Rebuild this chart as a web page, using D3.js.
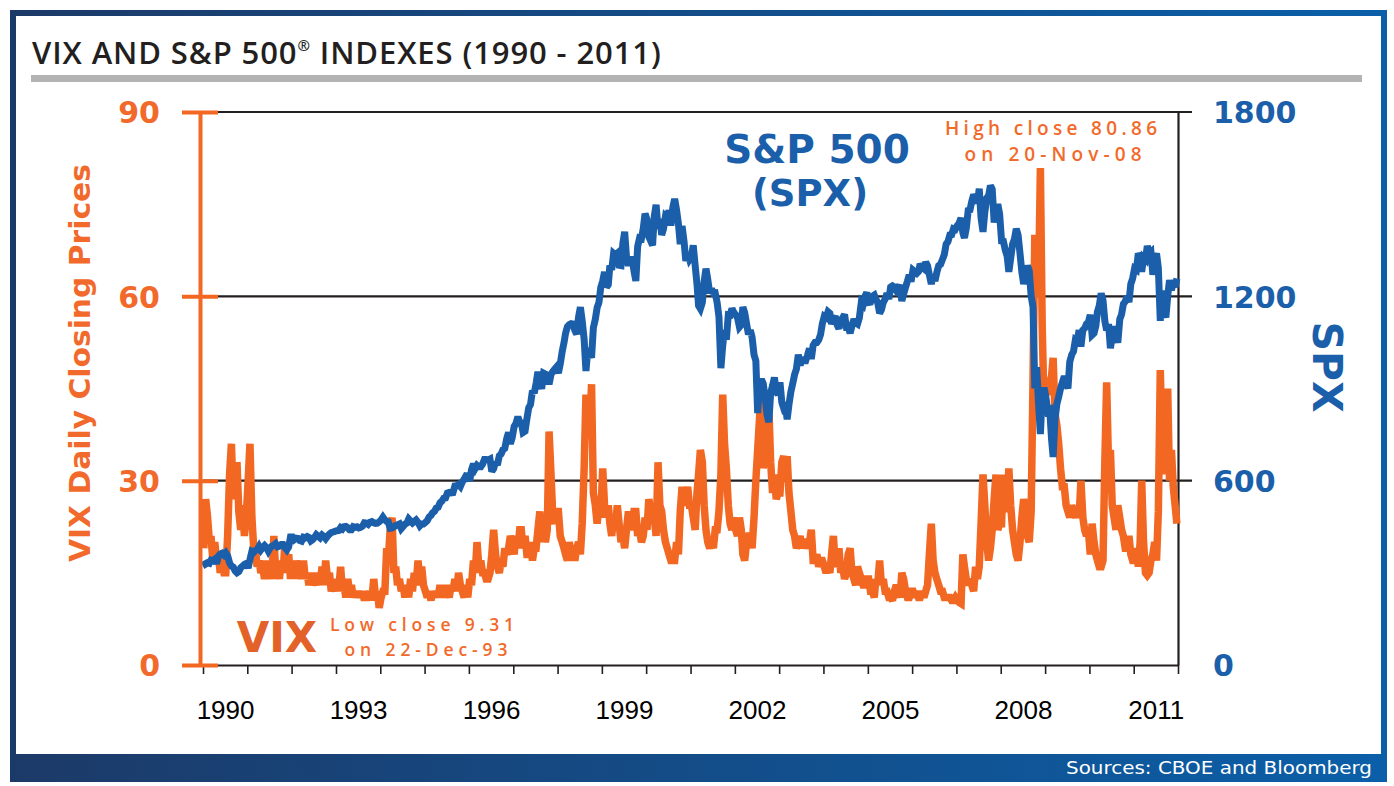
<!DOCTYPE html>
<html><head><meta charset="utf-8">
<script src="https://cdn.jsdelivr.net/npm/d3@7"></script>
<style>html,body{margin:0;padding:0;background:#fff;} svg{display:block}</style>
</head><body><svg id="chart" width="1394" height="786"></svg>
<script>
// ---------------- DATA ----------------
const vixTicks = [0, 30, 60, 90];
const spxTicks = [0, 600, 1200, 1800];
const yearLabels = [1990, 1993, 1996, 1999, 2002, 2005, 2008, 2011];
const firstYear = 1990;

// VIX closes, two readings per month (early / late), Jan 1990 - Dec 2011
const vixSemiMonthly = [
  19,27, 24,20, 21,17, 20,17, 18,15, 17,15, 15,21, 31,36, 27,31, 33,25, 22,26, 21,24,   // 1990
  30,36, 24,19, 19,16, 17,15, 16,14, 17,15, 16,14, 21,15, 16,14, 17,15, 20,15, 18,14,   // 1991
  17,14, 17,15, 16,14, 17,14, 15,13, 15,13, 14,13, 15,13, 16,13, 17,14, 15,12, 13,12,   // 1992
  14,12, 16,12, 13,11, 14,12, 13,11, 12,11, 12,11, 12,10.5, 12,11, 12,10.5, 14,11, 12,9.31, // 1993
  11,12, 12,19, 17,22, 24,15, 16,13, 14,12, 13,11, 13,11, 14,12, 15,13, 17,14, 16,13,   // 1994
  12,11, 12,10.5, 12,11, 12,11, 13,11, 13,11, 12,11, 13,12, 14,12, 15,13, 12,11, 13,11, // 1995
  14,13, 17,15, 20,16, 17,15, 15,14, 14,15, 18,22, 18,16, 15,17, 16,19, 18,19, 21,20,   // 1996
  18,21, 19,22, 22,19, 21,18, 18,20, 17,19, 19,22, 25,20, 22,20, 22,38, 31,24, 23,25,   // 1997
  25,21, 20,19, 18,17, 20,18, 19,17, 19,20, 18,23, 32,44, 40,38, 45.7,28, 26,23, 26,24, // 1998
  32,26, 24,26, 23,21, 24,22, 26,23, 20,21, 19,22, 25,23, 22,25, 25,21, 22,20, 21,24,   // 1999
  22,27, 25,23, 24,21, 33,26, 25,22, 20,19, 18,17, 17,17, 20,18, 25,29, 26,27, 29,26,   // 2000
  26,24, 22,28, 31,35, 33,26, 22,20, 19,20, 19,22, 22,25, 31,44, 36,32, 26,23, 22,24,   // 2001
  22,21, 24,22, 18,17, 20,21, 21,19, 24,30, 35,40, 45,32, 36,40, 42,33, 28,31, 27,28,   // 2002
  28,33, 34,30, 34,28, 25,22, 21,19, 20,21, 19,20, 20,19, 20,22, 17,17, 18,16, 17,17,   // 2003
  16,15, 16,15, 18,21, 16,17, 19,15, 16,14, 15,18, 19,15, 14,13, 16,15, 14,13, 13,14,   // 2004
  14,12, 12,11, 14,13, 17,13, 14,12, 12,11, 11,10.5, 12,13, 12,11, 15,14, 12,11, 11,12, // 2005
  12,11, 12,11, 11,12, 11,12, 13,18, 23,17, 15,14, 13,12, 12,11, 11,11, 11,10.5, 10.5,11, // 2006
  10.5,10.2, 10,18, 16,14, 13,14, 13,12, 16,14, 16,23, 31,26, 20,17, 19,22, 27,31, 22,23, // 2007
  23,31, 25,26, 32,26, 22,20, 18,17, 20,24, 27,25, 21,20, 25,46, 70,60, 62,80.86, 55,42, // 2008
  45,44, 46,47, 50,41, 39,36, 32,29, 29,26, 25,24, 26,25, 24,25, 24,30, 24,22, 21,22,   // 2009
  18,23, 20,18, 17,16, 16,17, 33,46, 32,35, 26,24, 22,26, 24,22, 21,19, 19,21, 18,17,   // 2010
  17,19, 16,20, 30,20, 15,14.6, 15,17, 18,20, 17,25, 48,36, 42,31, 45,30, 35,29, 26,23  // 2011
];

// S&P 500 closes, two readings per month (early / late), Jan 1990 - Dec 2011
const spxSemiMonthly = [
  340,329, 333,331, 341,339, 344,330, 354,361, 364,358, 365,356, 332,322, 318,306, 300,304, 317,322, 327,330, // 1990
  316,343, 370,367, 373,375, 386,375, 383,389, 382,371, 381,387, 390,395, 385,387, 392,392, 382,375, 384,417, // 1991
  417,408, 413,412, 405,403, 416,414, 418,415, 404,408, 415,424, 419,414, 423,418, 411,419, 426,431, 433,435, // 1992
  437,438, 447,443, 450,451, 447,440, 440,450, 448,450, 446,448, 452,463, 462,458, 465,467, 463,461, 462,466, // 1993
  472,481, 472,467, 466,445, 446,450, 454,456, 459,444, 451,458, 462,475, 468,462, 467,472, 464,453, 459,459, // 1994
  464,470, 482,487, 495,500, 511,514, 528,533, 543,544, 560,562, 560,561, 583,584, 588,581, 596,605, 616,615, // 1995
  599,636, 655,640, 650,645, 645,654, 669,669, 667,670, 630,639, 662,651, 681,687, 701,705, 737,757, 720,740, // 1996
  776,786, 808,790, 789,757, 761,801, 837,848, 893,885, 917,954, 922,899, 950,947, 944,914, 946,955, 963,970, // 1997
  950,980, 1020,1049, 1080,1101, 1108,1111, 1110,1090, 1077,1133, 1165,1120, 1060,957, 1030,1017, 1000,1098, 1125,1163, 1180,1229, // 1998
  1250,1279, 1230,1238, 1300,1286, 1340,1335, 1340,1301, 1300,1372, 1410,1328, 1300,1320, 1320,1282, 1250,1362, 1390,1388, 1420,1469, // 1999
  1450,1394, 1380,1366, 1460,1498, 1420,1452, 1400,1420, 1460,1454, 1480,1430, 1490,1517, 1480,1436, 1370,1429, 1380,1315, 1340,1320, // 2000
  1330,1366, 1300,1240, 1170,1160, 1180,1249, 1290,1255, 1210,1224, 1210,1211, 1180,1133, 966,1040, 1090,1059, 1140,1139, 1160,1148, // 2001
  1140,1130, 1100,1107, 1165,1147, 1110,1076, 1090,1067, 1010,990, 820,912, 930,916, 870,815, 790,885, 910,936, 890,880, // 2002
  920,855, 835,841, 800,848, 890,916, 945,963, 1010,975, 1000,990, 990,1008, 1030,996, 1040,1050, 1050,1058, 1075,1111, // 2003
  1135,1131, 1150,1145, 1110,1126, 1135,1107, 1095,1121, 1130,1141, 1100,1101, 1080,1104, 1125,1114, 1110,1130, 1180,1173, 1200,1212, // 2004
  1180,1181, 1200,1204, 1190,1180, 1145,1156, 1180,1191, 1210,1191, 1230,1234, 1230,1220, 1230,1229, 1185,1207, 1230,1249, 1270,1248, // 2005
  1285,1280, 1275,1281, 1305,1295, 1290,1311, 1300,1270, 1240,1270, 1250,1277, 1300,1304, 1320,1336, 1370,1378, 1400,1401, 1420,1418, // 2006
  1430,1438, 1455,1407, 1390,1421, 1480,1482, 1510,1531, 1520,1503, 1550,1455, 1410,1474, 1520,1527, 1560,1549, 1440,1481, 1500,1468, // 2007
  1380,1379, 1350,1331, 1280,1323, 1370,1386, 1420,1400, 1340,1280, 1240,1267, 1300,1283, 1200,1166, 900,969, 850,752, 880,903, // 2008
  870,826, 830,735, 677,798, 850,873, 900,919, 940,919, 900,987, 1010,1021, 1060,1057, 1090,1036, 1090,1096, 1110,1115, // 2009
  1140,1074, 1080,1104, 1150,1169, 1210,1187, 1120,1089, 1110,1031, 1070,1102, 1080,1049, 1125,1141, 1175,1183, 1200,1181, 1240,1258, // 2010
  1290,1286, 1340,1327, 1280,1326, 1320,1364, 1340,1345, 1270,1321, 1340,1292, 1120,1219, 1150,1131, 1200,1253, 1220,1247, 1230,1258  // 2011
];

// ---------------- STYLE ----------------
const ORANGE = "#f26722";
const ORANGE_TXT = "#f26a2b";
const BLUE = "#1b5fab";
const DARK = "#231f20";
const GOTH = "'DejaVu Sans', 'Open Sans', sans-serif";
const ARIAL = "'Liberation Sans', Arial, sans-serif";
const ANN = "'Open Sans', 'DejaVu Sans', sans-serif";

const svg = d3.select("#chart");
const defs = svg.append("defs");
const grad = defs.append("linearGradient").attr("id", "frameGrad")
  .attr("x1", "0%").attr("x2", "100%").attr("y1", "0%").attr("y2", "0%");
grad.append("stop").attr("offset", "0%").attr("stop-color", "#1c3a68");
grad.append("stop").attr("offset", "100%").attr("stop-color", "#0b5fa8");

// frame
svg.append("rect").attr("x", 13).attr("y", 13).attr("width", 1371).attr("height", 766)
  .attr("fill", "#fff").attr("stroke", "url(#frameGrad)").attr("stroke-width", 6);
svg.append("rect").attr("x", 10).attr("y", 754).attr("width", 1377).attr("height", 28)
  .attr("fill", "url(#frameGrad)");
svg.append("text").attr("x", 1372).attr("y", 774).attr("text-anchor", "end")
  .attr("font-family", GOTH).attr("font-size", 17).attr("fill", "#fff")
  .attr("textLength", 306).attr("lengthAdjust", "spacingAndGlyphs")
  .text("Sources: CBOE and Bloomberg");

// title
const title = svg.append("text").attr("x", 32).attr("y", 64)
  .attr("font-family", "'Open Sans', sans-serif").attr("font-weight", 600)
  .attr("font-size", 31).attr("letter-spacing", 0.9).attr("fill", DARK);
title.append("tspan").text("VIX AND S&P 500");
title.append("tspan").attr("font-size", 15).attr("dy", -13).text("®");
title.append("tspan").attr("dy", 13).text(" INDEXES (1990 - 2011)");
svg.append("rect").attr("x", 31).attr("y", 75).attr("width", 1331).attr("height", 7).attr("fill", "#b3b3b3");

// ---------------- SCALES ----------------
const x = d3.scaleTime().domain([new Date(1990, 0, 1), new Date(2012, 0, 1)]).range([203, 1178]);
const yV = d3.scaleLinear().domain([0, 90]).range([665, 112]);
const yS = d3.scaleLinear().domain([0, 1800]).range([665, 112]);
const dates = vixSemiMonthly.map((_, i) =>
  new Date(firstYear + Math.floor(i / 24), Math.floor((i % 24) / 2), i % 2 ? 23 : 8));

// gridlines
svg.append("g").selectAll("line").data(vixTicks.filter(d => d > 0)).join("line")
  .attr("x1", 203).attr("x2", 1192).attr("y1", d => yV(d)).attr("y2", d => yV(d))
  .attr("stroke", DARK).attr("stroke-width", 2.2);

// right axis line
const rightAxis = svg.append("g").attr("transform", "translate(1178,0)")
  .call(d3.axisRight(yS).tickValues(spxTicks).tickSizeInner(0).tickSizeOuter(0).tickFormat(""));
rightAxis.select(".domain").attr("stroke", DARK).attr("stroke-width", 2.2);
// right labels
const rightLbl = svg.append("g").attr("transform", "translate(1178,0)")
  .call(d3.axisRight(yS).tickValues(spxTicks).tickSize(0).tickPadding(35).tickFormat(d3.format("d")));
rightLbl.select(".domain").remove();
rightLbl.selectAll("text").attr("font-family", GOTH).attr("font-weight", "bold")
  .attr("font-size", 30).attr("fill", BLUE).attr("dy", "0.36em");

// bottom axis
const bottom = svg.append("g").attr("transform", "translate(0,665)")
  .call(d3.axisBottom(x).ticks(d3.timeYear.every(1)).tickSizeInner(9).tickSizeOuter(0).tickFormat(""));
bottom.select(".domain").attr("stroke", DARK).attr("stroke-width", 2.2);
bottom.selectAll(".tick line").attr("stroke", DARK).attr("stroke-width", 1.6);
const bottomLbl = svg.append("g").attr("transform", "translate(0,665)")
  .call(d3.axisBottom(x).tickValues(yearLabels.map(y => new Date(y, 6, 2)))
    .tickSize(0).tickPadding(36).tickFormat(d3.timeFormat("%Y")));
bottomLbl.select(".domain").remove();
bottomLbl.selectAll("text").attr("font-family", ARIAL).attr("font-size", 26).attr("fill", "#000");

// ---------------- SERIES ----------------
const vixLine = d3.line().x((d, i) => x(dates[i])).y(d => yV(d));
const spxLine = d3.line().x((d, i) => x(dates[i])).y(d => yS(d));
svg.append("path").datum(vixSemiMonthly).attr("d", vixLine)
  .attr("fill", "none").attr("stroke", ORANGE).attr("stroke-width", 7.5)
  .attr("stroke-linejoin", "miter").attr("stroke-miterlimit", 2.5);
svg.append("path").datum(spxSemiMonthly).attr("d", spxLine)
  .attr("fill", "none").attr("stroke", BLUE).attr("stroke-width", 7)
  .attr("stroke-linejoin", "miter").attr("stroke-miterlimit", 2.5);

// left axis (orange)
const leftAxis = svg.append("g").attr("transform", "translate(200,0)")
  .call(d3.axisLeft(yV).tickValues(vixTicks).tickSizeInner(18).tickSizeOuter(0).tickPadding(22));
leftAxis.select(".domain").attr("stroke", ORANGE).attr("stroke-width", 4);
leftAxis.selectAll(".tick line").attr("x1", 18).attr("stroke", ORANGE).attr("stroke-width", 4);
leftAxis.selectAll("text").attr("font-family", GOTH).attr("font-weight", "bold")
  .attr("font-size", 30).attr("fill", ORANGE_TXT).attr("dy", "0.36em");

// axis titles
svg.append("text").attr("transform", "translate(90,363) rotate(-90)")
  .attr("text-anchor", "middle").attr("font-family", GOTH).attr("font-weight", "bold")
  .attr("font-size", 29).attr("fill", ORANGE_TXT)
  .attr("textLength", 398).attr("lengthAdjust", "spacingAndGlyphs")
  .text("VIX Daily Closing Prices");
svg.append("text").attr("transform", "translate(1313,367) rotate(90)")
  .attr("text-anchor", "middle").attr("font-family", GOTH).attr("font-weight", "bold")
  .attr("font-size", 41).attr("fill", BLUE)
  .text("SPX");

// ---------------- ANNOTATIONS ----------------
svg.append("text").attr("x", 817).attr("y", 163).attr("text-anchor", "middle")
  .attr("font-family", GOTH).attr("font-weight", "bold").attr("font-size", 39).attr("fill", BLUE)
  .text("S&P 500");
svg.append("text").attr("x", 810).attr("y", 206).attr("text-anchor", "middle")
  .attr("font-family", GOTH).attr("font-weight", "bold").attr("font-size", 37).attr("fill", BLUE)
  .text("(SPX)");

svg.append("text").attr("x", 1051).attr("y", 135).attr("text-anchor", "middle")
  .attr("font-family", ANN).attr("font-weight", 600).attr("font-size", 19).attr("fill", ORANGE_TXT)
  .attr("textLength", 212).attr("lengthAdjust", "spacing").text("High close 80.86");
svg.append("text").attr("x", 1053).attr("y", 161).attr("text-anchor", "middle")
  .attr("font-family", ANN).attr("font-weight", 600).attr("font-size", 19).attr("fill", ORANGE_TXT)
  .attr("textLength", 177).attr("lengthAdjust", "spacing").text("on 20-Nov-08");

svg.append("text").attr("x", 277).attr("y", 652).attr("text-anchor", "middle")
  .attr("font-family", GOTH).attr("font-weight", "bold").attr("font-size", 42).attr("fill", "#e2622a")
  .text("VIX");
svg.append("text").attr("x", 422).attr("y", 631).attr("text-anchor", "middle")
  .attr("font-family", ANN).attr("font-weight", 600).attr("font-size", 17.5).attr("fill", ORANGE_TXT)
  .attr("textLength", 184).attr("lengthAdjust", "spacing").text("Low close 9.31");
svg.append("text").attr("x", 426).attr("y", 656).attr("text-anchor", "middle")
  .attr("font-family", ANN).attr("font-weight", 600).attr("font-size", 17.5).attr("fill", ORANGE_TXT)
  .attr("textLength", 163).attr("lengthAdjust", "spacing").text("on 22-Dec-93");
</script>
</body></html>
